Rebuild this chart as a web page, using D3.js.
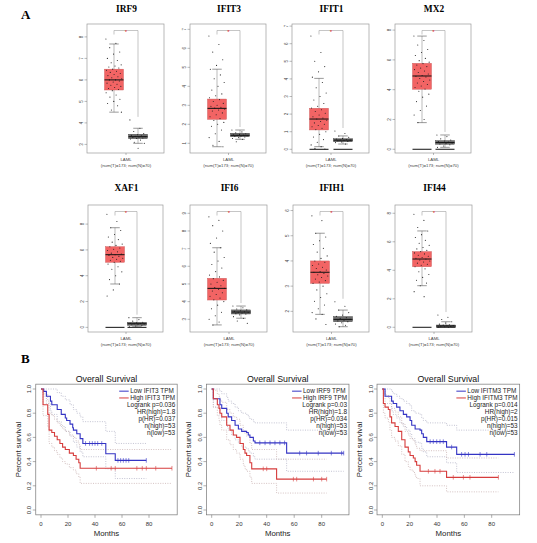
<!DOCTYPE html>
<html>
<head>
<meta charset="utf-8">
<script src="https://cdn.jsdelivr.net/npm/d3@7"></script>
<style>
  body { margin: 0; background: #fff; }
  text { font-family: "Liberation Sans", Arial, sans-serif; }
  .serif { font-family: "Liberation Serif", "Times New Roman", serif; font-weight: bold; }
</style>
</head>
<body>
<div id="chart"></div>
<script>
// ---------- A: expression boxplots (LAML tumor vs normal) ----------
var genes = ["IRF9", "IFIT3", "IFIT1", "MX2", "XAF1", "IFI6", "IFIH1", "IFI44"];
var yTicks = [
    [3, 4, 5, 6, 7, 8], [1, 2, 3, 4, 5, 6, 7], [0, 1, 2, 3, 4, 5, 6, 7], [0, 2, 4, 6, 8],
    [0, 2, 4, 6, 8], [3, 4, 5, 6, 7, 8, 9], [2, 3, 4, 5, 6], [0, 2, 4, 6, 8]
];
var yDomains = [
    [2.6, 8.6], [0.49, 7.28], [-0.21, 7.12], [-0.25, 8.41],
    [-0.36, 9.48], [2.28, 9.47], [1.18, 6.22], [-0.33, 8.58]
];
// [lower whisker, q1, median, q3, upper whisker]
var tumorStats = [
    [4.5, 5.53, 6.0, 6.5, 7.67], [0.82, 2.26, 2.84, 3.33, 4.9], [0.15, 1.1, 1.72, 2.33, 4.03], [1.79, 4.03, 4.92, 5.77, 7.6],
    [3.36, 5.04, 5.63, 6.25, 7.72], [2.68, 4.09, 4.75, 5.32, 7.05], [1.88, 3.11, 3.55, 4.0, 5.1], [2.92, 4.25, 4.79, 5.31, 6.76]
];
var normalStats = [
    [3.05, 3.27, 3.36, 3.47, 3.75], [1.21, 1.35, 1.42, 1.53, 1.7], [0.3, 0.43, 0.52, 0.6, 0.76], [0.13, 0.34, 0.45, 0.58, 0.96],
    [0.05, 0.16, 0.28, 0.39, 0.75], [3.06, 3.3, 3.41, 3.53, 3.75], [1.39, 1.59, 1.68, 1.79, 2.05], [0, 0.02, 0.09, 0.16, 0.39]
];
var tumorPoints = [
    [7.9, 7.7, 7.5, 7.3, 7.2, 7.0, 6.9, 6.8, 6.7, 6.65, 6.6, 6.55, 6.5, 6.45, 6.4, 6.35, 6.3, 6.25, 6.2, 6.15, 6.1, 6.05, 6.0, 6.0, 5.95, 5.9, 5.85, 5.8, 5.75, 5.7, 5.65, 5.6, 5.55, 5.5, 5.4, 5.3, 5.2, 5.1, 5.0, 4.9, 4.8, 4.6, 4.5],
    [6.65, 6.2, 5.8, 5.4, 5.1, 4.9, 4.6, 4.4, 4.2, 4.0, 3.8, 3.6, 3.5, 3.4, 3.3, 3.2, 3.1, 3.0, 2.95, 2.9, 2.85, 2.8, 2.75, 2.7, 2.6, 2.5, 2.4, 2.3, 2.2, 2.1, 2.0, 1.9, 1.7, 1.5, 1.3, 1.1, 0.9, 0.82],
    [6.44, 5.5, 5.0, 4.7, 4.4, 4.1, 3.8, 3.5, 3.2, 3.0, 2.8, 2.6, 2.45, 2.35, 2.25, 2.15, 2.05, 1.95, 1.85, 1.78, 1.72, 1.65, 1.58, 1.5, 1.42, 1.35, 1.28, 1.2, 1.12, 1.0, 0.85, 0.7, 0.55, 0.4, 0.25, 0.15, 0.05, 0.02],
    [7.6, 7.3, 7.0, 6.7, 6.5, 6.3, 6.1, 5.95, 5.85, 5.75, 5.65, 5.55, 5.45, 5.35, 5.25, 5.15, 5.05, 4.95, 4.9, 4.85, 4.75, 4.65, 4.55, 4.45, 4.35, 4.25, 4.15, 4.05, 3.9, 3.7, 3.5, 3.2, 2.9, 2.6, 2.3, 2.0, 1.79],
    [8.76, 8.2, 7.72, 7.5, 7.2, 7.0, 6.8, 6.6, 6.45, 6.35, 6.25, 6.15, 6.05, 5.95, 5.85, 5.75, 5.68, 5.63, 5.58, 5.5, 5.42, 5.35, 5.28, 5.2, 5.12, 5.05, 4.9, 4.7, 4.5, 4.3, 4.0, 3.7, 3.36, 2.9, 2.43],
    [8.8, 8.6, 8.3, 8.0, 7.6, 7.3, 7.05, 6.8, 6.5, 6.3, 6.1, 5.9, 5.7, 5.5, 5.4, 5.3, 5.2, 5.1, 5.0, 4.9, 4.8, 4.75, 4.7, 4.6, 4.5, 4.4, 4.3, 4.2, 4.1, 4.0, 3.8, 3.6, 3.4, 3.2, 3.0, 2.85, 2.68],
    [5.79, 5.6, 5.1, 4.95, 4.8, 4.65, 4.5, 4.35, 4.2, 4.1, 4.0, 3.95, 3.88, 3.82, 3.75, 3.7, 3.64, 3.58, 3.55, 3.5, 3.45, 3.4, 3.34, 3.28, 3.22, 3.16, 3.11, 3.0, 2.85, 2.7, 2.55, 2.4, 2.25, 2.1, 1.95, 1.88, 1.7, 1.48],
    [7.93, 7.5, 7.0, 6.76, 6.5, 6.3, 6.1, 5.9, 5.75, 5.6, 5.5, 5.4, 5.31, 5.22, 5.15, 5.05, 4.98, 4.9, 4.84, 4.79, 4.72, 4.65, 4.58, 4.5, 4.42, 4.35, 4.25, 4.1, 3.9, 3.7, 3.5, 3.3, 3.1, 2.92, 2.5, 2.15]
];
var normalPoints = [
    [4.14, 3.75, 3.6, 3.5, 3.45, 3.42, 3.4, 3.38, 3.36, 3.34, 3.32, 3.3, 3.28, 3.25, 3.2, 3.1, 3.05, 2.82],
    [1.7, 1.6, 1.55, 1.5, 1.47, 1.45, 1.43, 1.42, 1.4, 1.38, 1.36, 1.33, 1.3, 1.25, 1.21, 1.08],
    [1.04, 0.9, 0.76, 0.68, 0.62, 0.58, 0.55, 0.53, 0.52, 0.5, 0.48, 0.45, 0.42, 0.38, 0.3],
    [0.96, 0.85, 0.7, 0.62, 0.56, 0.52, 0.48, 0.45, 0.42, 0.38, 0.35, 0.3, 0.22, 0.13],
    [0.75, 0.6, 0.48, 0.4, 0.36, 0.32, 0.3, 0.28, 0.26, 0.24, 0.2, 0.16, 0.1, 0.05],
    [3.75, 3.65, 3.58, 3.53, 3.48, 3.45, 3.42, 3.4, 3.38, 3.35, 3.32, 3.3, 3.25, 3.15, 3.06, 2.9, 2.77],
    [2.38, 2.2, 2.05, 1.95, 1.85, 1.8, 1.75, 1.72, 1.68, 1.65, 1.62, 1.59, 1.55, 1.5, 1.45, 1.39],
    [0.86, 0.7, 0.55, 0.39, 0.3, 0.22, 0.18, 0.15, 0.12, 0.1, 0.08, 0.06, 0.04, 0.02, 0]
];
var hasZeros = [false, false, true, true, true, false, false, true];
var groupLabel = "LAML";
var groupCounts = "(num(T)=173; num(N)=70)";

// ---------- B: overall survival (Kaplan-Meier, months vs survival) ----------
var survGenes = ["IFIT3", "IRF9", "IFITM3"];
var survLow = [
    [[0, 1], [2, 0.98], [4, 0.94], [7, 0.9], [8, 0.87], [12, 0.83], [15, 0.79], [18, 0.76], [19, 0.74], [21.5, 0.71], [23.5, 0.68], [24, 0.66], [26.5, 0.63], [29, 0.59], [31, 0.55], [48, 0.465], [55, 0.41], [78, 0.41]],
    [[0, 1], [1.2, 0.92], [6, 0.87], [7.3, 0.84], [10.9, 0.8], [12, 0.77], [14.5, 0.74], [17, 0.7], [19.4, 0.67], [21.8, 0.65], [25.4, 0.64], [26.6, 0.62], [27.8, 0.6], [30.3, 0.57], [31.5, 0.555], [54.5, 0.47], [96, 0.47]],
    [[0, 1], [2, 0.94], [6.8, 0.9], [8, 0.88], [10.5, 0.85], [12.9, 0.82], [15.4, 0.79], [17.8, 0.77], [20.3, 0.74], [21.5, 0.7], [24, 0.67], [27.6, 0.66], [28.8, 0.63], [30, 0.6], [32.5, 0.565], [47, 0.52], [54.4, 0.46], [96.6, 0.46]]
];
var survHigh = [
    [[0, 1], [1.5, 0.87], [5, 0.79], [6, 0.66], [8, 0.64], [10, 0.61], [12, 0.58], [14, 0.55], [16, 0.52], [18, 0.5], [21, 0.47], [24, 0.45], [26, 0.42], [28, 0.39], [29, 0.345], [97, 0.345]],
    [[0, 1], [1.2, 0.92], [4.1, 0.87], [5.3, 0.84], [6, 0.8], [7.3, 0.77], [10.9, 0.7], [13.3, 0.66], [15.7, 0.62], [18.1, 0.6], [20.6, 0.55], [23, 0.5], [24.2, 0.47], [25.4, 0.45], [27.8, 0.39], [29.1, 0.34], [47.2, 0.255], [83.6, 0.255]],
    [[0, 1], [0.8, 0.88], [2, 0.85], [4.4, 0.83], [5.6, 0.77], [6.8, 0.72], [9.3, 0.69], [11.7, 0.65], [14.2, 0.58], [16.6, 0.52], [19, 0.48], [20.3, 0.45], [22.7, 0.43], [24, 0.4], [25.1, 0.37], [27.6, 0.32], [47, 0.27], [84.9, 0.27]]
];
var lowUpper = [
    [[0, 1], [8, 1], [12, 0.97], [15, 0.94], [18, 0.91], [21.5, 0.87], [24, 0.83], [26.5, 0.8], [29, 0.77], [31, 0.73], [48, 0.65], [55, 0.55], [78, 0.55]],
    [[0, 1], [6, 0.98], [7.3, 0.96], [10.9, 0.93], [12, 0.9], [14.5, 0.88], [17, 0.85], [19.4, 0.82], [21.8, 0.8], [25.4, 0.79], [26.6, 0.77], [27.8, 0.75], [30.3, 0.73], [31.5, 0.72], [54.5, 0.66], [96, 0.66]],
    [[0, 1], [6.8, 0.98], [8, 0.96], [10.5, 0.94], [12.9, 0.92], [15.4, 0.9], [17.8, 0.88], [20.3, 0.86], [21.5, 0.82], [24, 0.8], [27.6, 0.79], [28.8, 0.76], [30, 0.74], [32.5, 0.72], [47, 0.7], [54.4, 0.66], [96.6, 0.66]]
];
var lowLower = [
    [[0, 1], [2, 0.94], [4, 0.88], [7, 0.82], [8, 0.79], [12, 0.73], [15, 0.69], [18, 0.65], [21.5, 0.61], [24, 0.56], [26.5, 0.52], [29, 0.48], [31, 0.44], [48, 0.34], [55, 0.26], [78, 0.26]],
    [[0, 1], [1.2, 0.85], [6, 0.78], [7.3, 0.74], [10.9, 0.69], [12, 0.66], [14.5, 0.62], [17, 0.58], [19.4, 0.55], [21.8, 0.52], [25.4, 0.51], [26.6, 0.49], [27.8, 0.47], [30.3, 0.44], [31.5, 0.42], [54.5, 0.32], [96, 0.32]],
    [[0, 1], [2, 0.88], [6.8, 0.82], [8, 0.79], [10.5, 0.76], [12.9, 0.72], [15.4, 0.69], [17.8, 0.66], [20.3, 0.63], [21.5, 0.59], [24, 0.56], [27.6, 0.55], [28.8, 0.51], [30, 0.48], [32.5, 0.44], [47, 0.39], [54.4, 0.31], [96.6, 0.31]]
];
var highUpper = [
    [[0, 1], [1.5, 0.96], [5, 0.9], [6, 0.8], [8, 0.78], [10, 0.75], [12, 0.72], [14, 0.7], [16, 0.67], [18, 0.65], [21, 0.62], [24, 0.6], [26, 0.57], [28, 0.54], [29, 0.5], [97, 0.5]],
    [[0, 1], [1.2, 0.99], [4.1, 0.96], [5.3, 0.94], [6, 0.91], [7.3, 0.89], [10.9, 0.83], [13.3, 0.8], [15.7, 0.77], [18.1, 0.75], [20.6, 0.7], [23, 0.66], [24.2, 0.63], [25.4, 0.61], [27.8, 0.55], [29.1, 0.5], [47.2, 0.42], [83.6, 0.42]],
    [[0, 1], [0.8, 0.97], [2, 0.95], [4.4, 0.93], [5.6, 0.88], [6.8, 0.84], [9.3, 0.81], [11.7, 0.77], [14.2, 0.71], [16.6, 0.65], [19, 0.62], [20.3, 0.59], [22.7, 0.57], [24, 0.54], [25.1, 0.51], [27.6, 0.49], [47, 0.43], [84.9, 0.43]]
];
var highLower = [
    [[0, 1], [1.5, 0.78], [5, 0.69], [6, 0.55], [8, 0.52], [10, 0.49], [12, 0.46], [14, 0.43], [16, 0.4], [18, 0.38], [21, 0.35], [24, 0.33], [26, 0.3], [28, 0.27], [29, 0.22], [97, 0.22]],
    [[0, 1], [1.2, 0.85], [4.1, 0.78], [5.3, 0.74], [6, 0.7], [7.3, 0.66], [10.9, 0.58], [13.3, 0.54], [15.7, 0.5], [18.1, 0.47], [20.6, 0.42], [23, 0.37], [24.2, 0.34], [25.4, 0.32], [27.8, 0.27], [29.1, 0.22], [47.2, 0.14], [83.6, 0.14]],
    [[0, 1], [0.8, 0.8], [2, 0.76], [4.4, 0.73], [5.6, 0.66], [6.8, 0.6], [9.3, 0.57], [11.7, 0.53], [14.2, 0.46], [16.6, 0.4], [19, 0.36], [20.3, 0.33], [22.7, 0.31], [24, 0.28], [25.1, 0.26], [27.6, 0.2], [47, 0.15], [84.9, 0.15]]
];
var lowCensor = [
    [33, 36, 38, 40, 42, 45, 57, 59, 61, 63, 65, 78],
    [35, 38.8, 42.4, 46, 49.6, 53, 64, 69, 77.5, 87, 94.5, 96],
    [35, 37.3, 39.8, 42.2, 44.6, 50.7, 58, 60.5, 63, 71.5, 76.4, 96.6]
];
var highCensor = [
    [41, 52, 55, 71, 75, 78, 85, 97],
    [37.5, 40, 59.4, 61.8, 74, 80, 83.6],
    [33.7, 38.5, 42.2, 51.9, 59.3, 64.1, 84.9]
];
var logrankP = ["0.036", "0.03", "0.014"];
var hrHigh = ["1.8", "1.8", "2"];
var pHR = ["0.037", "0.034", "0.015"];
var nHigh = [53, 53, 53];
var nLow = [53, 53, 53];
var monthTicks = [0, 20, 40, 60, 80];
var survTicks = [0, 0.2, 0.4, 0.6, 0.8, 1.0];

// ---------- layout ----------
var boxCenters = [[114, 138], [217, 240], [319, 343], [422, 445], [115, 137], [217, 241], [320, 343], [422, 446]];
var rowTop = [24, 205], rowBottom = [153, 332], titleY = [12, 191];
var survRange = [[41, 149], [211.7, 321.7], [382.3, 491.7]];
var tumorColor = "#f26464", normalColor = "#6e6e6e";
var lowColor = "#3434c4", highColor = "#d63c3c";

var svg = d3.select("#chart").append("svg")
    .attr("width", 537)
    .attr("height", 543);
svg.append("rect").attr("width", 537).attr("height", 543).attr("fill", "#fff");

svg.append("text").attr("class", "serif").attr("x", 21).attr("y", 18.5)
    .style("font-size", "13px").text("A");
svg.append("text").attr("class", "serif").attr("x", 21).attr("y", 362.5)
    .style("font-size", "13px").text("B");

function drawBoxplot(i) {
    var row = Math.floor(i / 4);
    var tx = boxCenters[i][0], nx = boxCenters[i][1];
    var left = tx - 27, right = nx + 26;
    var top = rowTop[row], bottom = rowBottom[row];
    var bw = 19;
    var g = svg.append("g");

    var y = d3.scaleLinear().domain(yDomains[i]).range([bottom, top]);
    var x = d3.scalePoint().domain(["T", "N"]).range([tx, nx]);

    g.append("text").attr("class", "serif")
        .attr("x", (left + right) / 2 + 1).attr("y", titleY[row])
        .attr("text-anchor", "middle").style("font-size", "9.4px")
        .text(genes[i]);

    g.append("rect")
        .attr("x", left).attr("y", top)
        .attr("width", right - left).attr("height", bottom - top)
        .attr("fill", "none").attr("stroke", "#9a9a9a").attr("stroke-width", 0.7);

    // y axis, labels rotated like base R
    g.selectAll(".yt").data(yTicks[i]).enter().append("line")
        .attr("x1", left - 2.5).attr("x2", left)
        .attr("y1", function (d) { return y(d); })
        .attr("y2", function (d) { return y(d); })
        .attr("stroke", "#777").attr("stroke-width", 0.5);
    g.selectAll(".yl").data(yTicks[i]).enter().append("text")
        .attr("transform", function (d) { return "translate(" + (left - 4.5) + "," + y(d) + ") rotate(-90)"; })
        .attr("text-anchor", "middle")
        .style("font-size", "4.5px").attr("fill", "#444")
        .text(function (d) { return d; });

    // x axis tick + group labels
    var mid = (tx + nx) / 2;
    g.append("line").attr("x1", mid).attr("x2", mid)
        .attr("y1", bottom).attr("y2", bottom + 2)
        .attr("stroke", "#777").attr("stroke-width", 0.5);
    g.append("text").attr("x", mid).attr("y", bottom + 7.5)
        .attr("text-anchor", "middle").style("font-size", "4.3px").attr("fill", "#444")
        .text(groupLabel);
    g.append("text").attr("x", mid).attr("y", bottom + 13.5)
        .attr("text-anchor", "middle").style("font-size", "4.3px").attr("fill", "#444")
        .text(groupCounts);

    var groups = [
        {key: "T", stats: tumorStats[i], pts: tumorPoints[i], fill: tumorColor, stroke: "#c65050"},
        {key: "N", stats: normalStats[i], pts: normalPoints[i], fill: normalColor, stroke: "#333"}
    ];

    groups.forEach(function (grp) {
        var cx = x(grp.key), s = grp.stats;
        if (hasZeros[i]) {
            g.append("line")
                .attr("x1", cx - bw / 2).attr("x2", cx + bw / 2)
                .attr("y1", y(0)).attr("y2", y(0))
                .attr("stroke", "#111").attr("stroke-width", 1);
        }
        // whiskers
        g.append("line").attr("x1", cx).attr("x2", cx)
            .attr("y1", y(s[0])).attr("y2", y(s[4]))
            .attr("stroke", "#777").attr("stroke-width", 0.5);
        [s[0], s[4]].forEach(function (v) {
            g.append("line")
                .attr("x1", cx - bw / 4).attr("x2", cx + bw / 4)
                .attr("y1", y(v)).attr("y2", y(v))
                .attr("stroke", "#555").attr("stroke-width", 0.6);
        });
        g.append("rect")
            .attr("x", cx - bw / 2).attr("y", y(s[3]))
            .attr("width", bw).attr("height", y(s[1]) - y(s[3]))
            .attr("fill", grp.fill).attr("stroke", grp.stroke).attr("stroke-width", 0.4);
        // jittered samples
        g.selectAll(null).data(grp.pts).enter().append("circle")
            .attr("cx", function (d, k) { return cx + (((k * 0.618034) % 1) - 0.5) * bw * 0.85; })
            .attr("cy", function (d) { return y(d); })
            .attr("r", 0.55)
            .attr("fill", "#222");
        g.append("line")
            .attr("x1", cx - bw / 2).attr("x2", cx + bw / 2)
            .attr("y1", y(s[2])).attr("y2", y(s[2]))
            .attr("stroke", "#111").attr("stroke-width", 1);
    });

    // significance bracket
    var bTop = top + 6.5;
    var nMax = d3.max(normalPoints[i]);
    g.append("path")
        .attr("d", "M" + tx + "," + (bTop + 4) + "V" + bTop + "H" + nx + "V" + (y(nMax) - 3))
        .attr("fill", "none").attr("stroke", "#a0a0a0").attr("stroke-width", 0.6);
    g.append("text").attr("x", mid).attr("y", bTop + 3)
        .attr("text-anchor", "middle").style("font-size", "6px").attr("fill", "#e02020")
        .text("*");
}

genes.forEach(function (d, i) { drawBoxplot(i); });

// step value of a KM curve at time t
function survAt(curve, t) {
    var v = curve[0][1];
    curve.forEach(function (p) { if (p[0] <= t) v = p[1]; });
    return v;
}

function drawSurvival(i) {
    var g = svg.append("g");
    var x = d3.scaleLinear().domain([0, 80]).range(survRange[i]);
    var y = d3.scaleLinear().domain([0, 1]).range([510, 389]);
    var maxT = d3.max(survLow[i].concat(survHigh[i]), function (d) { return d[0]; });
    var left = x(-0.04 * maxT), right = x(maxT * 1.04);
    var top = y(1.04), bottom = y(-0.04);

    var line = d3.line()
        .x(function (d) { return x(d[0]); })
        .y(function (d) { return y(d[1]); })
        .curve(d3.curveStepAfter);

    g.append("rect")
        .attr("x", left).attr("y", top)
        .attr("width", right - left).attr("height", bottom - top)
        .attr("fill", "none").attr("stroke", "#777").attr("stroke-width", 0.7);

    g.append("text").attr("x", (left + right) / 2).attr("y", 382)
        .attr("text-anchor", "middle").style("font-size", "8.8px").attr("fill", "#111")
        .text("Overall Survival");

    // axes
    g.selectAll(".xt").data(monthTicks).enter().append("line")
        .attr("x1", function (d) { return x(d); }).attr("x2", function (d) { return x(d); })
        .attr("y1", bottom).attr("y2", bottom + 3)
        .attr("stroke", "#777").attr("stroke-width", 0.6);
    g.selectAll(".xl").data(monthTicks).enter().append("text")
        .attr("x", function (d) { return x(d); }).attr("y", bottom + 11.5)
        .attr("text-anchor", "middle").style("font-size", "6px").attr("fill", "#333")
        .text(function (d) { return d; });
    g.selectAll(".yt").data(survTicks).enter().append("line")
        .attr("x1", left - 3).attr("x2", left)
        .attr("y1", function (d) { return y(d); }).attr("y2", function (d) { return y(d); })
        .attr("stroke", "#777").attr("stroke-width", 0.6);
    g.selectAll(".yl").data(survTicks).enter().append("text")
        .attr("transform", function (d) { return "translate(" + (left - 4.5) + "," + y(d) + ") rotate(-90)"; })
        .attr("text-anchor", "middle").style("font-size", "6px").attr("fill", "#333")
        .text(d3.format(".1f"));
    g.append("text")
        .attr("x", (left + right) / 2).attr("y", 535.5)
        .attr("text-anchor", "middle").style("font-size", "7.8px").attr("fill", "#222")
        .text("Months");
    g.append("text")
        .attr("transform", "translate(" + (left - 15) + "," + ((top + bottom) / 2) + ") rotate(-90)")
        .attr("text-anchor", "middle").style("font-size", "7.8px").attr("fill", "#222")
        .text("Percent survival");

    // confidence bands
    [[lowUpper[i], "#b4b4c6"], [lowLower[i], "#b4b4c6"], [highUpper[i], "#c9b2b2"], [highLower[i], "#c9b2b2"]]
        .forEach(function (c) {
            g.append("path").attr("d", line(c[0]))
                .attr("fill", "none").attr("stroke", c[1])
                .attr("stroke-width", 0.8).attr("stroke-dasharray", "1,1.4");
        });

    var curves = [
        {data: survLow[i], cens: lowCensor[i], color: lowColor},
        {data: survHigh[i], cens: highCensor[i], color: highColor}
    ];
    curves.forEach(function (c) {
        g.append("path").attr("d", line(c.data))
            .attr("fill", "none").attr("stroke", c.color).attr("stroke-width", 1.1);
        g.selectAll(null).data(c.cens).enter().append("line")
            .attr("x1", function (d) { return x(d); }).attr("x2", function (d) { return x(d); })
            .attr("y1", function (d) { return y(survAt(c.data, d)) - 2.3; })
            .attr("y2", function (d) { return y(survAt(c.data, d)) + 2.3; })
            .attr("stroke", c.color).attr("stroke-width", 0.6);
    });

    // legend
    var lg = g.append("g").style("font-size", "6.4px").attr("fill", "#222");
    var legRight = right - 2;
    var names = ["Low " + survGenes[i] + " TPM", "High " + survGenes[i] + " TPM"];
    var nameText = lg.selectAll(".nm").data(names).enter().append("text")
        .attr("y", function (d, k) { return top + 9 + k * 6.8; })
        .text(function (d) { return d; });
    var wMax = 0;
    nameText.each(function () { wMax = Math.max(wMax, this.getComputedTextLength()); });
    nameText.attr("x", legRight - wMax);
    [lowColor, highColor].forEach(function (col, k) {
        lg.append("line")
            .attr("x1", legRight - wMax - 11).attr("x2", legRight - wMax - 1.5)
            .attr("y1", top + 7 + k * 6.8).attr("y2", top + 7 + k * 6.8)
            .attr("stroke", col).attr("stroke-width", 1);
    });
    var stats = ["Logrank p=" + logrankP[i], "HR(high)=" + hrHigh[i], "p(HR)=" + pHR[i],
                 "n(high)=" + nHigh[i], "n(low)=" + nLow[i]];
    lg.selectAll(".st").data(stats).enter().append("text")
        .attr("x", legRight).attr("y", function (d, k) { return top + 9 + (k + 2) * 6.8 + 0.6; })
        .attr("text-anchor", "end")
        .text(function (d) { return d; });
}

survGenes.forEach(function (d, i) { drawSurvival(i); });
</script>
</body>
</html>
